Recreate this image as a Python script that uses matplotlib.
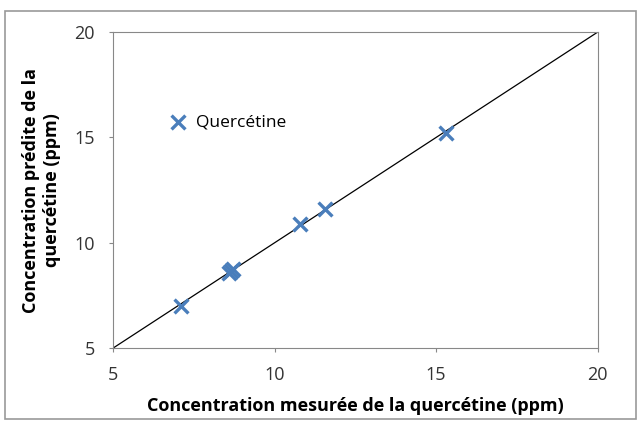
import numpy as np
import matplotlib
matplotlib.use("Agg")
import matplotlib.pyplot as plt

plt.rcParams['font.family'] = ['Open Sans', 'DejaVu Sans']

# valeurs
mesuree = [7.1, 8.6, 8.7, 8.65, 10.8, 11.55, 15.3]
predite = [7.0, 8.55, 8.75, 8.65, 10.9, 11.6, 15.2]
ligne = [5, 20]
ticks = [5, 10, 15, 20]

fig = plt.figure(figsize=(6.42, 4.22), dpi=100)
ax = fig.add_axes([0.176, 0.175, 0.755, 0.749])

ax.plot(ligne, ligne, color='black', lw=0.9)
ax.scatter(mesuree, predite, marker='x', s=100, color='#4a7ebb', linewidths=2.4,
           label='Quercétine', zorder=3)

ax.set_xlim(5, 20)
ax.set_ylim(5, 20)
ax.set_xticks(ticks)
ax.set_yticks(ticks)
ax.tick_params(labelsize=13, length=3, pad=10, color='#888888', labelcolor='#333333')
for s in ax.spines.values():
    s.set_color('#888888')

ax.set_xlabel('Concentration mesurée de la quercétine (ppm)', fontsize=13,
              fontweight='bold', labelpad=9)
ax.set_ylabel('Concentration prédite de la\nquercétine (ppm)', fontsize=13,
              fontweight='bold', labelpad=10)

ax.legend(loc='center left', bbox_to_anchor=(0.085, 0.715), frameon=False,
          fontsize=12.5, handletextpad=0.0, borderaxespad=0)

# cadre autour de la figure
fig.patches.append(plt.Rectangle((0.008, 0.008), 0.982, 0.967, transform=fig.transFigure,
                                 fill=False, edgecolor='#999999', lw=1.2))

fig.savefig('out.png', dpi=100)
